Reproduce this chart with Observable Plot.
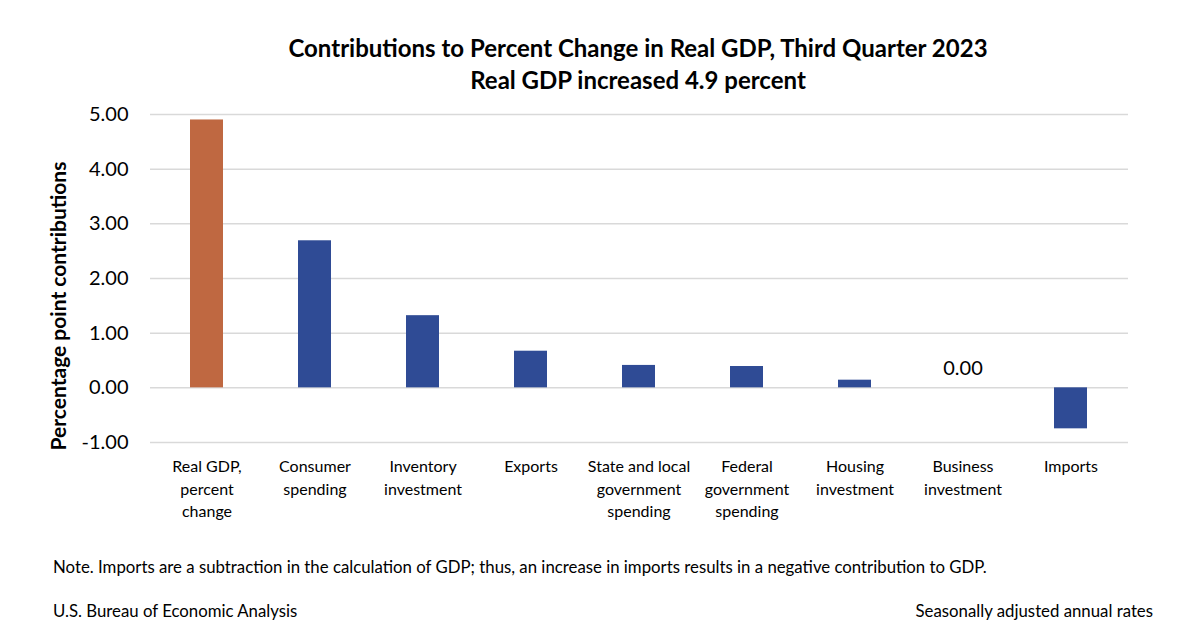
<!DOCTYPE html>
<html><head><meta charset="utf-8">
<script src="https://cdn.jsdelivr.net/npm/d3@7"></script>
<script src="https://cdn.jsdelivr.net/npm/@observablehq/plot@0.6"></script>
<style>
body{margin:0;background:#fff;font-family:Lato,"Open Sans",sans-serif;color:#000}
#wrap{position:relative;width:1200px;height:638px;overflow:hidden;background:#fff}
#title{position:absolute;left:0;width:1276px;top:32px;text-align:center;font-weight:bold;font-size:24px;line-height:32px}
#chart{position:absolute;left:0;top:100px}
#ylab{position:absolute;left:57px;top:306px;transform:translate(-50%,-50%) rotate(-90deg);white-space:nowrap;font-weight:bold;font-size:21px}
#note{position:absolute;left:53px;top:556px;font-size:16.8px;white-space:nowrap}
#src{position:absolute;left:53px;top:600px;font-size:16.8px;white-space:nowrap}
#sa{position:absolute;right:47px;top:600px;font-size:16.8px;white-space:nowrap}
</style></head><body>
<div id="wrap">
  <div id="title">Contributions to Percent Change in Real GDP, Third Quarter 2023<br>Real GDP increased 4.9 percent</div>
  <div id="chart"></div>
  <div id="ylab">Percentage point contributions</div>
  <div id="note">Note. Imports are a subtraction in the calculation of GDP; thus, an increase in imports results in a negative contribution to GDP.</div>
  <div id="src">U.S. Bureau of Economic Analysis</div>
  <div id="sa">Seasonally adjusted annual rates</div>
</div>
<script>
const categories = ["Real GDP,\npercent\nchange", "Consumer\nspending", "Inventory\ninvestment", "Exports", "State and local\ngovernment\nspending", "Federal\ngovernment\nspending", "Housing\ninvestment", "Business\ninvestment", "Imports"];
const values = [4.9, 2.69, 1.32, 0.67, 0.41, 0.39, 0.14, 0.00, -0.75];
const kinds = ["total", "component", "component", "component", "component", "component", "component", "component", "component"];
const yTicks = [-1, 0, 1, 2, 3, 4, 5];

const data = categories.map((c, i) => ({cat: c, value: values[i], kind: kinds[i]}));

const chart = Plot.plot({
  width: 1200,
  height: 430,
  marginTop: 14,
  marginBottom: 88,
  marginLeft: 150,
  marginRight: 72,
  style: {fontFamily: "Lato, 'Open Sans', sans-serif", color: "#000", background: "#fff"},
  x: {domain: categories, paddingInner: 0.69, paddingOuter: 0.345, axis: null},
  y: {domain: [-1, 5], axis: null},
  color: {domain: ["total", "component"], range: ["#BF6841", "#2F4B95"]},
  marks: [
    Plot.ruleY(yTicks, {stroke: "#d9d9d9", strokeWidth: 1.5}),
    Plot.barY(data, {x: "cat", y: "value", fill: "kind"}),
    Plot.text(data.filter(d => d.value === 0), {x: "cat", y: "value", text: d => d.value.toFixed(2), dy: -19, fontSize: 20}),
    Plot.axisY({ticks: yTicks, tickFormat: d => d.toFixed(2), tickSize: 0, tickPadding: 22, fontSize: 20, label: null}),
    Plot.axisX({tickSize: 0, tickPadding: 14, fontSize: 16, lineHeight: 1.4, label: null, lineAnchor: "top"})
  ]
});
document.getElementById("chart").appendChild(chart);
</script>
</body></html>
